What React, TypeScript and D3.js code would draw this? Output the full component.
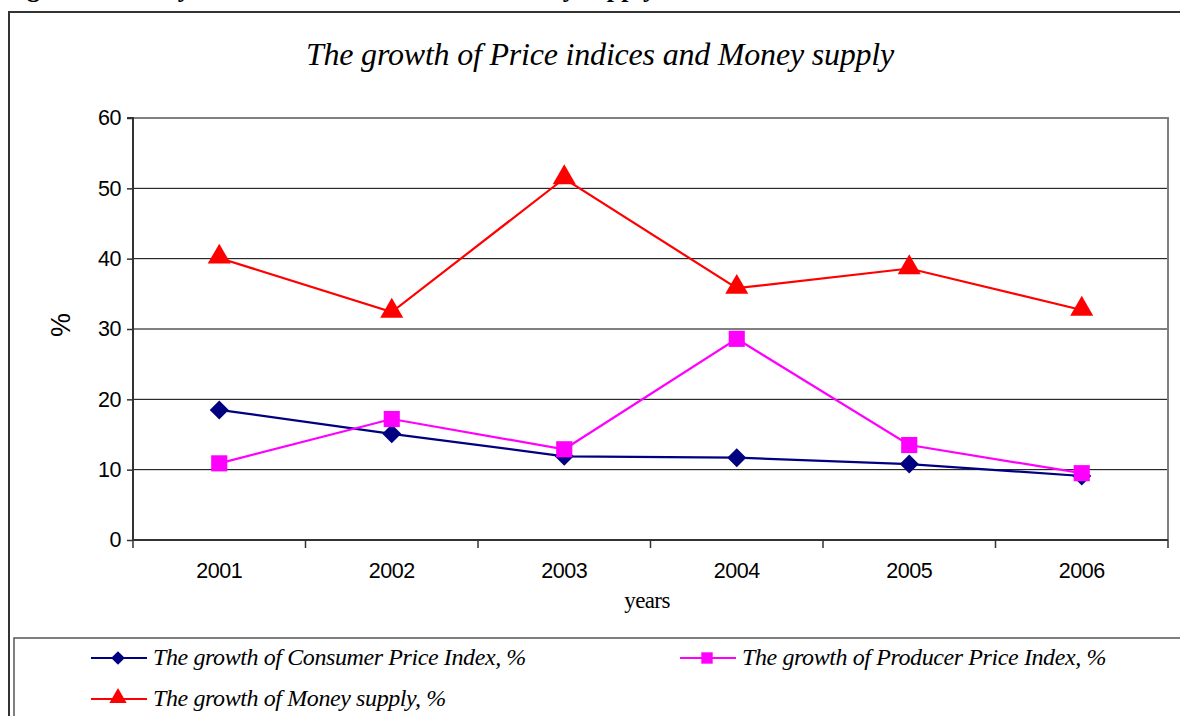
import React, { useEffect, useRef } from 'react';
import * as d3 from 'd3';

const years = ['2001', '2002', '2003', '2004', '2005', '2006'];
const cpi = [18.5, 15.1, 11.9, 11.7, 10.8, 9.1];
const ppi = [10.9, 17.2, 12.9, 28.6, 13.5, 9.5];
const money = [40.1, 32.4, 51.4, 35.8, 38.6, 32.7];
const yTicks = [0, 10, 20, 30, 40, 50, 60];

const seriesNames = [
  'The growth of Consumer Price Index, %',
  'The growth of  Producer Price Index, %',
  'The growth of Money supply, %',
];

const App = () => {
  const svgRef = useRef<SVGSVGElement | null>(null);

  useEffect(() => {
    const width = 1180;
    const height = 716;
    const left = 133, right = 1168, top = 118, bottom = 540;

    const svg = d3.select(svgRef.current).attr('width', width).attr('height', height);
    svg.selectAll('*').remove();

    // caption of the page, cut off at the top
    svg.append('text')
      .attr('x', 4).attr('y', -3)
      .attr('font-family', 'Liberation Serif').attr('font-weight', 'bold').attr('font-size', 26)
      .text('Figure 4. The Dynamics of Price indices and Money supply');

    // outer frame
    svg.append('path').attr('d', `M9,716 V12 H1180`)
      .attr('fill', 'none').attr('stroke', '#333').attr('stroke-width', 2);

    // title
    svg.append('text')
      .attr('x', 600).attr('y', 65).attr('text-anchor', 'middle')
      .attr('font-family', 'Liberation Serif').attr('font-style', 'italic').attr('font-size', 32)
      .attr('letter-spacing', -0.2)
      .text('The growth of Price indices and Money supply');

    const x = d3.scaleBand().domain(years).range([left, right]);
    const y = d3.scaleLinear().domain([0, 60]).range([bottom, top]);

    // gridlines
    svg.append('g').selectAll('line').data(yTicks.slice(1, -1)).enter().append('line')
      .attr('x1', left).attr('x2', right)
      .attr('y1', d => y(d)).attr('y2', d => y(d))
      .attr('stroke', '#000').attr('stroke-width', 1);

    // plot border top/right
    svg.append('path').attr('d', `M${left},${top} H${right} V${bottom}`)
      .attr('fill', 'none').attr('stroke', '#808080').attr('stroke-width', 2);

    // y axis
    const yAxis = svg.append('g').attr('transform', `translate(${left},0)`)
      .call(d3.axisLeft(y).tickValues(yTicks).tickSize(6).tickPadding(6));
    yAxis.select('.domain').attr('stroke', '#333').attr('stroke-width', 2).attr('d', `M-6,${top}H0V${bottom}`);
    yAxis.selectAll('line').attr('stroke', '#333').attr('stroke-width', 1.5);
    yAxis.selectAll('text').attr('font-family', 'Liberation Sans').attr('font-size', 21.5)
      .attr('letter-spacing', -0.5).attr('fill', '#000');

    // x axis
    const xAxis = svg.append('g').attr('transform', `translate(0,${bottom})`)
      .call(d3.axisBottom(x).tickSize(0).tickPadding(23));
    xAxis.select('.domain').attr('stroke', '#333').attr('stroke-width', 2).attr('d', `M${left},0H${right}`);
    xAxis.selectAll('text').attr('font-family', 'Liberation Sans').attr('font-size', 21.5)
      .attr('letter-spacing', -0.5).attr('fill', '#000');
    xAxis.append('g').selectAll('line').data(years).enter().append('line')
      .attr('x1', d => x(d)!).attr('x2', d => x(d)!)
      .attr('y1', 0).attr('y2', 8).attr('stroke', '#333').attr('stroke-width', 1.5);
    xAxis.append('line').attr('x1', right).attr('x2', right).attr('y1', 0).attr('y2', 8)
      .attr('stroke', '#333').attr('stroke-width', 1.5);

    // axis titles
    svg.append('text').attr('x', 647).attr('y', 608).attr('text-anchor', 'middle')
      .attr('font-family', 'Liberation Serif').attr('font-size', 23).attr('letter-spacing', -0.6).text('years');
    svg.append('text').attr('transform', 'translate(70,325) rotate(-90)').attr('text-anchor', 'middle')
      .attr('font-family', 'Liberation Sans').attr('font-size', 27).text('%');

    const cx = (d: string) => x(d)! + x.bandwidth() / 2;
    const line = d3.line<number>().x((_, i) => cx(years[i])).y(d => y(d));

    const colors = ['#000080', '#FF00FF', '#FF0000'];
    const symbols = [d3.symbolDiamond2, d3.symbolSquare, d3.symbolTriangle];
    const sizes = [230, 260, 230];
    const data = [cpi, ppi, money];

    data.forEach((vals, k) => {
      svg.append('path').datum(vals).attr('d', line)
        .attr('fill', 'none').attr('stroke', colors[k]).attr('stroke-width', 2.2);
    });
    data.forEach((vals, k) => {
      svg.append('g').selectAll('path').data(vals).enter().append('path')
        .attr('transform', (d, i) => `translate(${cx(years[i])},${y(d) + (k === 2 ? -1 : 0)})`)
        .attr('d', d3.symbol().type(symbols[k]).size(sizes[k])())
        .attr('fill', colors[k]);
    });

    // legend box
    svg.append('path').attr('d', `M1180,638 H14 V716`)
      .attr('fill', 'none').attr('stroke', '#555').attr('stroke-width', 1.5);

    const legendPos = [
      { x: 91, y: 658 },
      { x: 680, y: 658 },
      { x: 91, y: 699 },
    ];
    const legendSizes = [120, 130, 130];
    legendPos.forEach((p, k) => {
      const g = svg.append('g').attr('transform', `translate(${p.x},${p.y})`);
      g.append('line').attr('x1', 0).attr('x2', 56).attr('y1', 0).attr('y2', 0)
        .attr('stroke', colors[k]).attr('stroke-width', 2.2);
      g.append('path').attr('transform', `translate(27,${k === 2 ? -1 : 0})`)
        .attr('d', d3.symbol().type(symbols[k]).size(legendSizes[k])())
        .attr('fill', colors[k]);
      g.append('text').attr('x', 62).attr('y', 7)
        .attr('font-family', 'Liberation Serif').attr('font-style', 'italic').attr('font-size', 24)
        .attr('letter-spacing', -0.4)
        .text(seriesNames[k]);
    });
  }, []);

  return <svg ref={svgRef} style={{ position: 'absolute', left: 0, top: 0 }}></svg>;
};

export default App;
